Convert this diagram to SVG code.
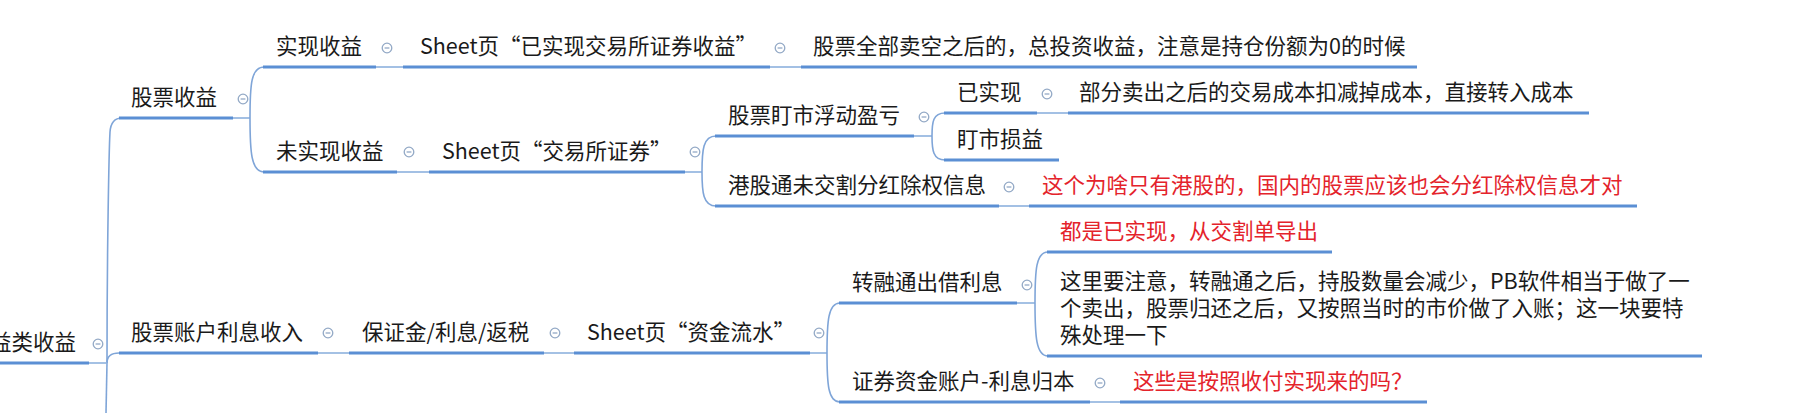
<svg xmlns="http://www.w3.org/2000/svg" width="1815" height="413" viewBox="0 0 1815 413">
<defs>
<style>
text{font-family:"Noto Sans CJK SC","Microsoft YaHei",sans-serif;font-size:21.5px;fill:#1a1a1a}
text.red{fill:#e4232b}
.ul{stroke:#5b8fd4;stroke-width:3.2;fill:none;stroke-linecap:butt}
.cn{stroke:#8db1de;stroke-width:1.6;fill:none}
.br{stroke:#7fa5d8;stroke-width:1.6;fill:none}
.cc{fill:#fff;stroke:#93a9c6;stroke-width:1.3}
.cm{stroke:#93a9c6;stroke-width:1.3}
</style>
<symbol id="col" viewBox="-6 -6 12 12" overflow="visible">
<circle class="cc" cx="0" cy="0" r="4.8"/>
<line class="cm" x1="-2.4" y1="0" x2="2.4" y2="0"/>
</symbol>
</defs>
<rect width="1815" height="413" fill="#fff"/>
<g id="connectors">
<path class="br" d="M107,363 C107,250 109,150 110,132 Q111,118 122,118"/>
<path class="br" d="M107,363 Q107,353 119,353"/>
<path class="br" d="M107,363 L106,413"/>
<line class="cn" x1="88" y1="363" x2="107" y2="363"/>
<line class="cn" x1="233" y1="118" x2="250" y2="118"/>
<path class="br" d="M250,118 C250,85 251,67 264,67"/>
<path class="br" d="M250,118 C250,151 251,172 264,172"/>
<line class="cn" x1="376" y1="67" x2="403" y2="67"/>
<line class="cn" x1="770" y1="67" x2="801" y2="67"/>
<line class="cn" x1="397" y1="172" x2="429" y2="172"/>
<line class="cn" x1="685" y1="172" x2="702" y2="172"/>
<path class="br" d="M702,172 C702,150 703,136 716,136"/>
<path class="br" d="M702,172 C702,192 703,206 716,206"/>
<line class="cn" x1="914" y1="136" x2="932" y2="136"/>
<path class="br" d="M932,136 C932,122 933,113 945,113"/>
<path class="br" d="M932,136 C932,150 933,160 945,160"/>
<line class="cn" x1="1037" y1="113" x2="1068" y2="113"/>
<line class="cn" x1="999" y1="206" x2="1029" y2="206"/>
<line class="cn" x1="318" y1="353" x2="349" y2="353"/>
<line class="cn" x1="544" y1="353" x2="574" y2="353"/>
<line class="cn" x1="810" y1="353" x2="827" y2="353"/>
<path class="br" d="M827,353 C827,322 828,303 840,303"/>
<path class="br" d="M827,353 C827,384 828,402 840,402"/>
<line class="cn" x1="1017" y1="303" x2="1035" y2="303"/>
<path class="br" d="M1035,303 C1035,270 1036,252 1048,252"/>
<path class="br" d="M1035,303 C1035,336 1036,356 1048,356"/>
<line class="cn" x1="1090" y1="402" x2="1120" y2="402"/>
</g>
<g id="n-root">
<line class="ul" x1="0" y1="363" x2="89" y2="363"/>
<text x="-10" y="350">益类收益</text>
<use href="#col" x="92" y="338" width="12" height="12"/>
</g>
<g id="n-gpsy">
<line class="ul" x1="119" y1="118" x2="233" y2="118"/>
<text x="131" y="105">股票收益</text>
<use href="#col" x="237" y="93" width="12" height="12"/>
</g>
<g id="n-sxsy">
<line class="ul" x1="263" y1="67" x2="376" y2="67"/>
<text x="276" y="54">实现收益</text>
<use href="#col" x="381" y="42" width="12" height="12"/>
</g>
<g id="n-sheet1">
<line class="ul" x1="403" y1="67" x2="770" y2="67"/>
<text x="420" y="54">Sheet页“已实现交易所证券收益”</text>
<use href="#col" x="774" y="42" width="12" height="12"/>
</g>
<g id="n-zt">
<line class="ul" x1="801" y1="67" x2="1417" y2="67"/>
<text x="813" y="54">股票全部卖空之后的，总投资收益，注意是持仓份额为0的时候</text>
</g>
<g id="n-wsx">
<line class="ul" x1="263" y1="172" x2="397" y2="172"/>
<text x="276" y="159">未实现收益</text>
<use href="#col" x="403" y="146" width="12" height="12"/>
</g>
<g id="n-sheet2">
<line class="ul" x1="429" y1="172" x2="685" y2="172"/>
<text x="442" y="159">Sheet页“交易所证券”</text>
<use href="#col" x="689" y="146" width="12" height="12"/>
</g>
<g id="n-dsfd">
<line class="ul" x1="715" y1="136" x2="914" y2="136"/>
<text x="728" y="123">股票盯市浮动盈亏</text>
<use href="#col" x="918" y="111" width="12" height="12"/>
</g>
<g id="n-ysx">
<line class="ul" x1="944" y1="113" x2="1037" y2="113"/>
<text x="957" y="100">已实现</text>
<use href="#col" x="1041" y="88" width="12" height="12"/>
</g>
<g id="n-bfmc">
<line class="ul" x1="1068" y1="113" x2="1589" y2="113"/>
<text x="1079" y="100">部分卖出之后的交易成本扣减掉成本，直接转入成本</text>
</g>
<g id="n-dssy">
<line class="ul" x1="944" y1="160" x2="1059" y2="160"/>
<text x="957" y="147">盯市损益</text>
</g>
<g id="n-ggt">
<line class="ul" x1="715" y1="206" x2="999" y2="206"/>
<text x="728" y="193">港股通未交割分红除权信息</text>
<use href="#col" x="1003" y="181" width="12" height="12"/>
</g>
<g id="n-ggt-note">
<line class="ul" x1="1029" y1="206" x2="1637" y2="206"/>
<text class="red" x="1042" y="193">这个为啥只有港股的，国内的股票应该也会分红除权信息才对</text>
</g>
<g id="n-zhlx">
<line class="ul" x1="119" y1="353" x2="318" y2="353"/>
<text x="131" y="340">股票账户利息收入</text>
<use href="#col" x="322" y="327" width="12" height="12"/>
</g>
<g id="n-bzj">
<line class="ul" x1="349" y1="353" x2="544" y2="353"/>
<text x="362" y="340">保证金/利息/返税</text>
<use href="#col" x="549" y="327" width="12" height="12"/>
</g>
<g id="n-sheet3">
<line class="ul" x1="574" y1="353" x2="810" y2="353"/>
<text x="587" y="340">Sheet页“资金流水”</text>
<use href="#col" x="813" y="327" width="12" height="12"/>
</g>
<g id="n-zrt">
<line class="ul" x1="839" y1="303" x2="1017" y2="303"/>
<text x="852" y="290">转融通出借利息</text>
<use href="#col" x="1021" y="279" width="12" height="12"/>
</g>
<g id="n-dsysx">
<line class="ul" x1="1047" y1="252" x2="1332" y2="252"/>
<text class="red" x="1060" y="239">都是已实现，从交割单导出</text>
</g>
<g id="n-zlyzy">
<line class="ul" x1="1047" y1="356" x2="1702" y2="356"/>
<text x="1060" y="289"><tspan x="1060" y="289">这里要注意，转融通之后，持股数量会减少，PB软件相当于做了一</tspan><tspan x="1060" y="316">个卖出，股票归还之后，又按照当时的市价做了入账；这一块要特</tspan><tspan x="1060" y="343">殊处理一下</tspan></text>
</g>
<g id="n-zqzj">
<line class="ul" x1="839" y1="402" x2="1090" y2="402"/>
<text x="852" y="389">证券资金账户-利息归本</text>
<use href="#col" x="1094" y="377" width="12" height="12"/>
</g>
<g id="n-zqzj-note">
<line class="ul" x1="1120" y1="402" x2="1427" y2="402"/>
<text class="red" x="1133" y="389">这些是按照收付实现来的吗？</text>
</g>
</svg>
